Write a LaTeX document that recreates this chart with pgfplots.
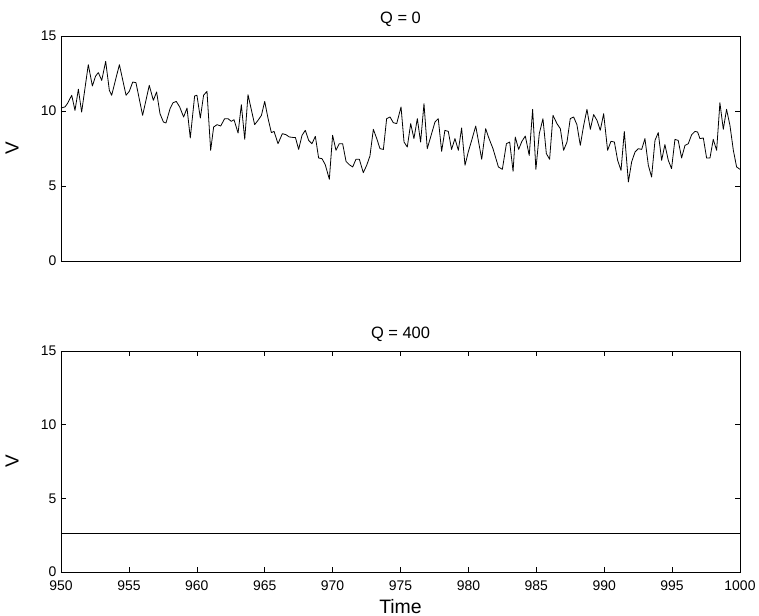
\documentclass[border=0pt]{standalone}
\usepackage{pgfplots}
\pgfplotsset{compat=1.18}
\usepackage{fontspec}
\setmainfont{Liberation Sans}
\pgfplotstableread{
t v
950.00 10.20
950.29 10.27
950.47 10.49
950.79 11.05
951.03 10.04
951.28 11.45
951.52 9.93
952.01 13.09
952.31 11.67
952.55 12.33
952.75 12.56
953.00 12.04
953.29 13.31
953.56 11.38
953.73 11.05
954.30 13.09
954.79 11.05
955.03 11.31
955.28 11.93
955.52 11.89
956.01 9.71
956.50 11.71
956.80 10.71
957.04 11.27
957.29 9.82
957.54 9.27
957.73 9.20
958.03 10.15
958.25 10.55
958.49 10.64
958.74 10.27
959.03 9.60
959.28 10.20
959.52 8.20
959.84 11.00
960.01 11.05
960.26 9.53
960.50 11.05
960.75 11.31
961.02 7.38
961.24 8.93
961.49 9.09
961.76 9.00
962.05 9.49
962.30 9.49
962.54 9.31
962.74 9.42
963.04 8.53
963.28 10.42
963.53 8.11
963.77 11.09
964.26 9.09
964.51 9.38
964.76 9.71
965.00 10.64
965.25 9.49
965.49 8.56
965.69 8.64
965.98 7.82
966.30 8.49
966.57 8.42
966.81 8.27
967.06 8.24
967.26 8.24
967.50 7.44
967.75 8.38
967.99 8.71
968.24 8.04
968.48 7.82
968.73 8.31
968.97 6.87
969.22 6.82
969.46 6.42
969.76 5.45
970.00 8.38
970.25 7.38
970.49 7.82
970.74 7.82
970.99 6.64
971.23 6.42
971.48 6.27
971.72 6.78
971.97 6.78
972.26 5.89
972.51 6.38
972.75 7.00
973.00 8.78
973.25 8.16
973.49 7.49
973.74 7.44
973.98 9.49
974.23 9.60
974.47 9.22
974.72 9.16
975.04 10.27
975.26 7.93
975.50 7.60
975.75 9.16
975.99 8.16
976.24 9.49
976.48 7.93
976.73 10.49
976.97 7.49
977.22 8.27
977.54 9.27
977.78 9.49
978.03 7.31
978.27 8.71
978.52 8.64
978.76 7.44
979.01 8.16
979.26 7.38
979.50 8.87
979.75 6.38
979.99 7.27
980.24 8.04
980.54 9.00
980.98 6.78
981.27 8.82
981.52 8.16
981.81 7.49
982.21 6.27
982.50 6.11
982.80 7.82
983.04 7.93
983.29 5.98
983.45 8.27
983.70 7.44
983.94 7.98
984.19 8.33
984.48 7.04
984.73 10.11
984.97 6.11
985.22 8.49
985.49 9.49
985.74 7.16
985.98 6.78
986.23 9.71
986.52 9.16
986.77 8.82
987.01 7.38
987.26 7.93
987.50 9.49
987.75 9.60
987.99 9.09
988.24 7.71
988.48 9.00
988.73 10.11
988.98 8.78
989.22 9.76
989.47 9.38
989.71 8.71
989.96 9.82
990.25 7.38
990.50 7.98
990.75 7.93
990.99 6.71
991.24 6.04
991.48 8.64
991.78 5.27
992.02 6.60
992.27 7.27
992.51 7.49
992.76 7.44
993.00 8.16
993.25 6.38
993.49 5.60
993.74 8.04
993.98 8.56
994.23 6.71
994.47 7.76
994.72 6.71
994.96 6.16
995.21 8.11
995.45 8.04
995.70 6.87
995.95 7.71
996.19 7.82
996.44 8.42
996.68 8.64
996.88 8.60
997.05 8.16
997.30 8.20
997.54 6.87
997.79 6.87
998.03 8.11
998.28 7.38
998.52 10.55
998.77 8.78
999.01 10.11
999.26 9.04
999.51 7.38
999.75 6.27
1000.00 6.11
}\topdata
\pgfplotstableread{
t v
950 2.65
1000 2.65
}\botdata
\begin{document}
\begin{tikzpicture}
\pgfplotsset{
  every axis/.append style={
    scale only axis,
    width=679bp,
    xmin=950, xmax=1000,
    ymin=0, ymax=15,
    ytick={0,5,10,15},
    tick align=inside,
    major tick length=5bp,
    tick style={black, line width=0.5pt},
    axis line style={black, line width=0.7pt},
    /pgf/number format/assume math mode=true,
    ticklabel style={font=\fontsize{14}{16}\selectfont},
    xticklabel style={yshift=-5bp},
    yticklabel style={xshift=-1bp},
    title style={font=\fontsize{16.5}{18}\selectfont, at={(0.5,1)}, anchor=base, yshift=7bp},
    ylabel style={font=\fontsize{19}{21}\selectfont, at={(axis description cs:-0.072,0.5)}, anchor=center},
    xlabel style={font=\fontsize{19.5}{21}\selectfont, at={(axis description cs:0.5,0)}, anchor=base, yshift=-41bp},
    /pgf/number format/set thousands separator={},
  },
}
\begin{axis}[name=top, at={(0,0)}, anchor=north west, height=225bp,
  xtick=\empty, title={Q = 0}, ylabel={V}]
\addplot[black, line width=0.8pt, mark=none, line join=round] table[x=t, y=v] {\topdata};
\end{axis}
\begin{axis}[name=bot, at={(0,-315bp)}, anchor=north west, height=221bp,
  xtick={950,955,...,1000}, title={Q = 400}, ylabel={V}, xlabel={Time}]
\addplot[black, line width=0.8pt, mark=none] table[x=t, y=v] {\botdata};
\end{axis}
\pgfresetboundingbox
\useasboundingbox (-61bp,36bp) rectangle (698bp,-580bp);
\end{tikzpicture}
\end{document}
